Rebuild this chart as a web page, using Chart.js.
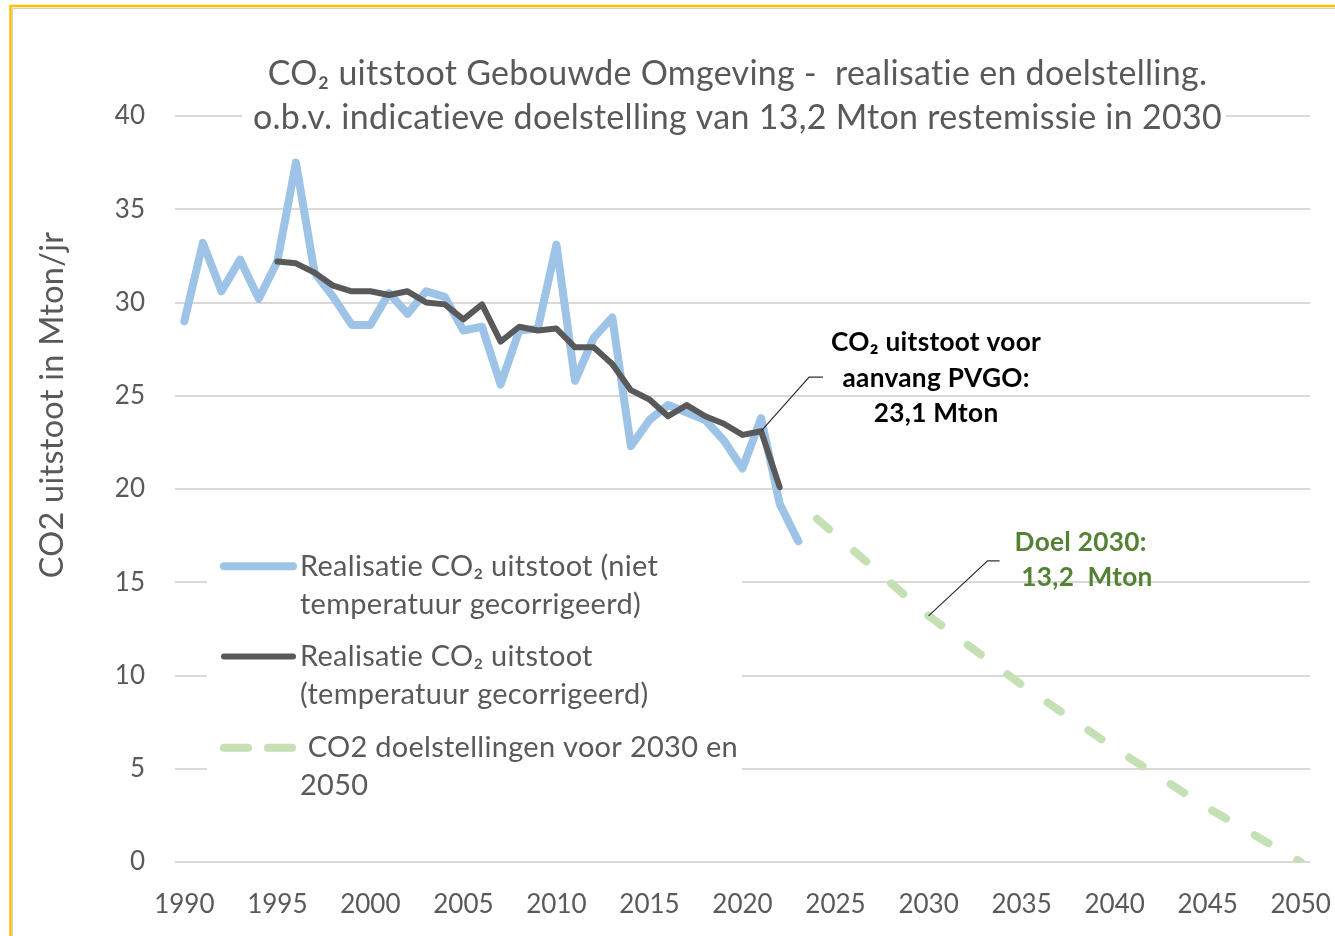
<!DOCTYPE html>
<html>
<head>
<meta charset="utf-8">
<script src="https://cdn.jsdelivr.net/npm/chart.js@4.4.1/dist/chart.umd.min.js"></script>
<style>
html,body{margin:0;padding:0;background:#fff;}
canvas{display:block;}
</style>
</head>
<body>
<canvas id="c" width="1335" height="936" style="width:1335px;height:936px"></canvas>
<script>
// ---------- DATA ----------
const realYears = [1990,1991,1992,1993,1994,1995,1996,1997,1998,1999,2000,2001,2002,2003,2004,2005,2006,2007,2008,2009,2010,2011,2012,2013,2014,2015,2016,2017,2018,2019,2020,2021,2022,2023];
const realValues = [29.0,33.2,30.6,32.3,30.2,32.2,37.5,31.6,30.3,28.8,28.8,30.5,29.4,30.6,30.3,28.5,28.7,25.6,28.5,28.6,33.1,25.8,28.1,29.2,22.3,23.7,24.5,24.1,23.7,22.6,21.1,23.8,19.2,17.2];

const tcYears = [1995,1996,1997,1998,1999,2000,2001,2002,2003,2004,2005,2006,2007,2008,2009,2010,2011,2012,2013,2014,2015,2016,2017,2018,2019,2020,2021,2022];
const tcValues = [32.2,32.1,31.6,30.9,30.6,30.6,30.4,30.6,30.0,29.9,29.1,29.9,27.9,28.7,28.5,28.6,27.6,27.6,26.7,25.3,24.8,23.9,24.5,23.9,23.5,22.9,23.1,20.1];

const goalYears = [2024,2030,2035,2040,2045,2050];
const goalValues = [18.4,13.2,9.5,6.1,2.9,0];

const xTickValues = [1990,1995,2000,2005,2010,2015,2020,2025,2030,2035,2040,2045,2050];
const yTickValues = [0,5,10,15,20,25,30,35,40];

const seriesLabels = [
  ['Realisatie CO\u2082 uitstoot (niet', 'temperatuur gecorrigeerd)'],
  ['Realisatie CO\u2082 uitstoot', '(temperatuur gecorrigeerd)'],
  [' CO2 doelstellingen voor 2030 en', '2050']
];
const titleLines = ['CO\u2082 uitstoot Gebouwde Omgeving -  realisatie en doelstelling.',
                    'o.b.v. indicatieve doelstelling van 13,2 Mton restemissie in 2030'];
const yTitle = 'CO2 uitstoot in Mton/jr';
const noteTc = ['CO\u2082 uitstoot voor', 'aanvang PVGO:', '23,1 Mton'];
const noteGoal = ['Doel 2030:', ' 13,2  Mton'];

// ---------- STYLE ----------
const FONT = "Lato, 'Noto Sans', sans-serif";
const GREY = '#595959';
const BLUE = '#9DC3E6';
const DARK = '#595959';
const GREEN = '#C5E0B4';
const GOALTXT = '#548235';
const LS = '0.3px';

const mctx = document.createElement('canvas').getContext('2d');
function fitSize(text, target, weight) {
  mctx.font = (weight || 'normal') + ' 100px ' + FONT;
  try { mctx.letterSpacing = '0px'; } catch (e) {}
  return 100 * target / mctx.measureText(text).width;
}
const titleSize = Math.min(fitSize(titleLines[1], 955), fitSize(titleLines[0], 922));
const legendSize = fitSize(seriesLabels[0][0], 350);
const noteSize = fitSize(noteTc[0], 205, 'bold');
const yTitleSize = fitSize(yTitle, 340);

const toXY = (xs, ys) => xs.map((x, i) => ({x: x, y: ys[i]}));

const decor = {
  id: 'decor',
  beforeDraw(chart) {
    const ctx = chart.ctx;
    ctx.save();
    ctx.fillStyle = '#fff';
    ctx.fillRect(0, 0, chart.width, chart.height);
    ctx.strokeStyle = '#FFC000';
    ctx.lineWidth = 2.5;
    ctx.beginPath();
    ctx.moveTo(10.5, chart.height);
    ctx.lineTo(10.5, 6);
    ctx.lineTo(chart.width, 6);
    ctx.stroke();
    ctx.strokeStyle = '#d0d0d0';
    ctx.lineWidth = 1;
    ctx.beginPath();
    ctx.moveTo(12.5, chart.height);
    ctx.lineTo(12.5, 8.5);
    ctx.lineTo(chart.width, 8.5);
    ctx.stroke();
    ctx.restore();
  },
  afterDraw(chart) {
    const ctx = chart.ctx;
    const ca = chart.chartArea;
    const xs = chart.scales.x, ys = chart.scales.y;
    ctx.save();
    try { ctx.letterSpacing = LS; } catch (e) {}

    // Title with white background over plot
    const cx = (ca.left + ca.right) / 2 - 5;
    ctx.fillStyle = '#fff';
    ctx.fillRect(242, 50, 984, 88);
    ctx.fillStyle = GREY;
    ctx.font = 'normal ' + titleSize.toFixed(2) + 'px ' + FONT;
    ctx.textAlign = 'center';
    ctx.textBaseline = 'middle';
    ctx.fillText(titleLines[0], cx, ca.top - 42);
    ctx.fillText(titleLines[1], cx, ca.top + 2);

    // Y axis title
    ctx.save();
    ctx.translate(53, (ca.top + ca.bottom) / 2 - 84);
    ctx.rotate(-Math.PI / 2);
    ctx.font = 'normal ' + yTitleSize.toFixed(2) + 'px ' + FONT;
    ctx.fillStyle = GREY;
    ctx.textAlign = 'center';
    ctx.textBaseline = 'middle';
    ctx.fillText(yTitle, 0, 0);
    ctx.restore();

    // Legend inside plot
    const lx = ca.left + 32, ly = ys.getPixelForValue(15) - 38;
    ctx.fillStyle = '#fff';
    ctx.fillRect(lx, ly, 535, 265);
    const rows = [ys.getPixelForValue(15) - 16, ys.getPixelForValue(10) - 19, ys.getPixelForValue(5) - 21];
    chart.data.datasets.forEach((ds, i) => {
      const y = rows[i];
      ctx.save();
      ctx.strokeStyle = ds.borderColor;
      ctx.lineWidth = ds.borderWidth;
      ctx.lineCap = 'round';
      if (ds.borderDash) ctx.setLineDash([24, 20]);
      ctx.beginPath();
      ctx.moveTo(ca.left + 49, y);
      ctx.lineTo(ca.left + 118, y);
      ctx.stroke();
      ctx.restore();
      ctx.fillStyle = GREY;
      ctx.font = 'normal ' + legendSize.toFixed(2) + 'px ' + FONT;
      ctx.textAlign = 'left';
      ctx.textBaseline = 'middle';
      seriesLabels[i].forEach((t, k) => ctx.fillText(t, ca.left + 125, y + k * 38));
    });

    // Annotation: PVGO
    const ax = xs.getPixelForValue(2021), ay = ys.getPixelForValue(tcValues[tcYears.indexOf(2021)]);
    ctx.strokeStyle = '#303030';
    ctx.lineWidth = 1.2;
    ctx.beginPath();
    ctx.moveTo(ax, ay);
    ctx.lineTo(ax + 48, ay - 54);
    ctx.lineTo(ax + 62, ay - 54);
    ctx.stroke();
    ctx.fillStyle = '#000';
    ctx.font = 'bold ' + noteSize.toFixed(2) + 'px ' + FONT;
    ctx.textAlign = 'center';
    ctx.textBaseline = 'middle';
    [-89, -53, -18].forEach((dy, k) => ctx.fillText(noteTc[k], ax + 175, ay + dy));

    // Annotation: goal 2030
    const gx = xs.getPixelForValue(2030), gy = ys.getPixelForValue(goalValues[goalYears.indexOf(2030)]);
    ctx.beginPath();
    ctx.moveTo(gx, gy);
    ctx.lineTo(gx + 59, gy - 55);
    ctx.lineTo(gx + 71, gy - 55);
    ctx.stroke();
    ctx.fillStyle = GOALTXT;
    ctx.textAlign = 'left';
    ctx.fillText(noteGoal[0], gx + 86, gy - 73);
    ctx.fillText(noteGoal[1], gx + 86, gy - 38);

    ctx.restore();
  }
};

new Chart(document.getElementById('c'), {
  type: 'line',
  data: {
    datasets: [
      { label: seriesLabels[0].join(' '), data: toXY(realYears, realValues), borderColor: BLUE, borderWidth: 8, order: 1 },
      { label: seriesLabels[1].join(' '), data: toXY(tcYears, tcValues), borderColor: DARK, borderWidth: 6, order: 0 },
      { label: seriesLabels[2].join(' '), data: toXY(goalYears, goalValues), borderColor: GREEN, borderWidth: 8, borderDash: [16, 33.2], borderCapStyle: 'round', order: 2 }
    ]
  },
  options: {
    responsive: false,
    devicePixelRatio: 1,
    animation: false,
    layout: { padding: { top: 116, right: 25, left: 0, bottom: 0 } },
    elements: {
      point: { radius: 0, hoverRadius: 0 },
      line: { tension: 0, borderJoinStyle: 'round', borderCapStyle: 'round', fill: false }
    },
    plugins: { legend: { display: false }, title: { display: false }, tooltip: { enabled: false } },
    scales: {
      x: {
        type: 'linear',
        min: 1989.5, max: 2050.5,
        afterBuildTicks: (s) => { s.ticks = xTickValues.map(v => ({ value: v })); },
        afterFit: (s) => { s.height = 74; s.paddingLeft = 0; s.paddingRight = 0; },
        grid: { display: false },
        border: { display: false },
        ticks: { color: GREY, font: { family: FONT, size: 26 }, padding: 19, maxRotation: 0, autoSkip: false, callback: (v) => String(v) }
      },
      y: {
        min: 0, max: 40,
        afterBuildTicks: (s) => { s.ticks = yTickValues.map(v => ({ value: v })); },
        afterFit: (s) => { s.width = 175; s.paddingTop = 0; s.paddingBottom = 0; },
        grid: { color: '#D9D9D9', lineWidth: 2, drawTicks: false },
        border: { display: false },
        ticks: { color: GREY, font: { family: FONT, size: 26 }, padding: 30 }
      }
    }
  },
  plugins: [decor]
});
</script>
</body>
</html>
